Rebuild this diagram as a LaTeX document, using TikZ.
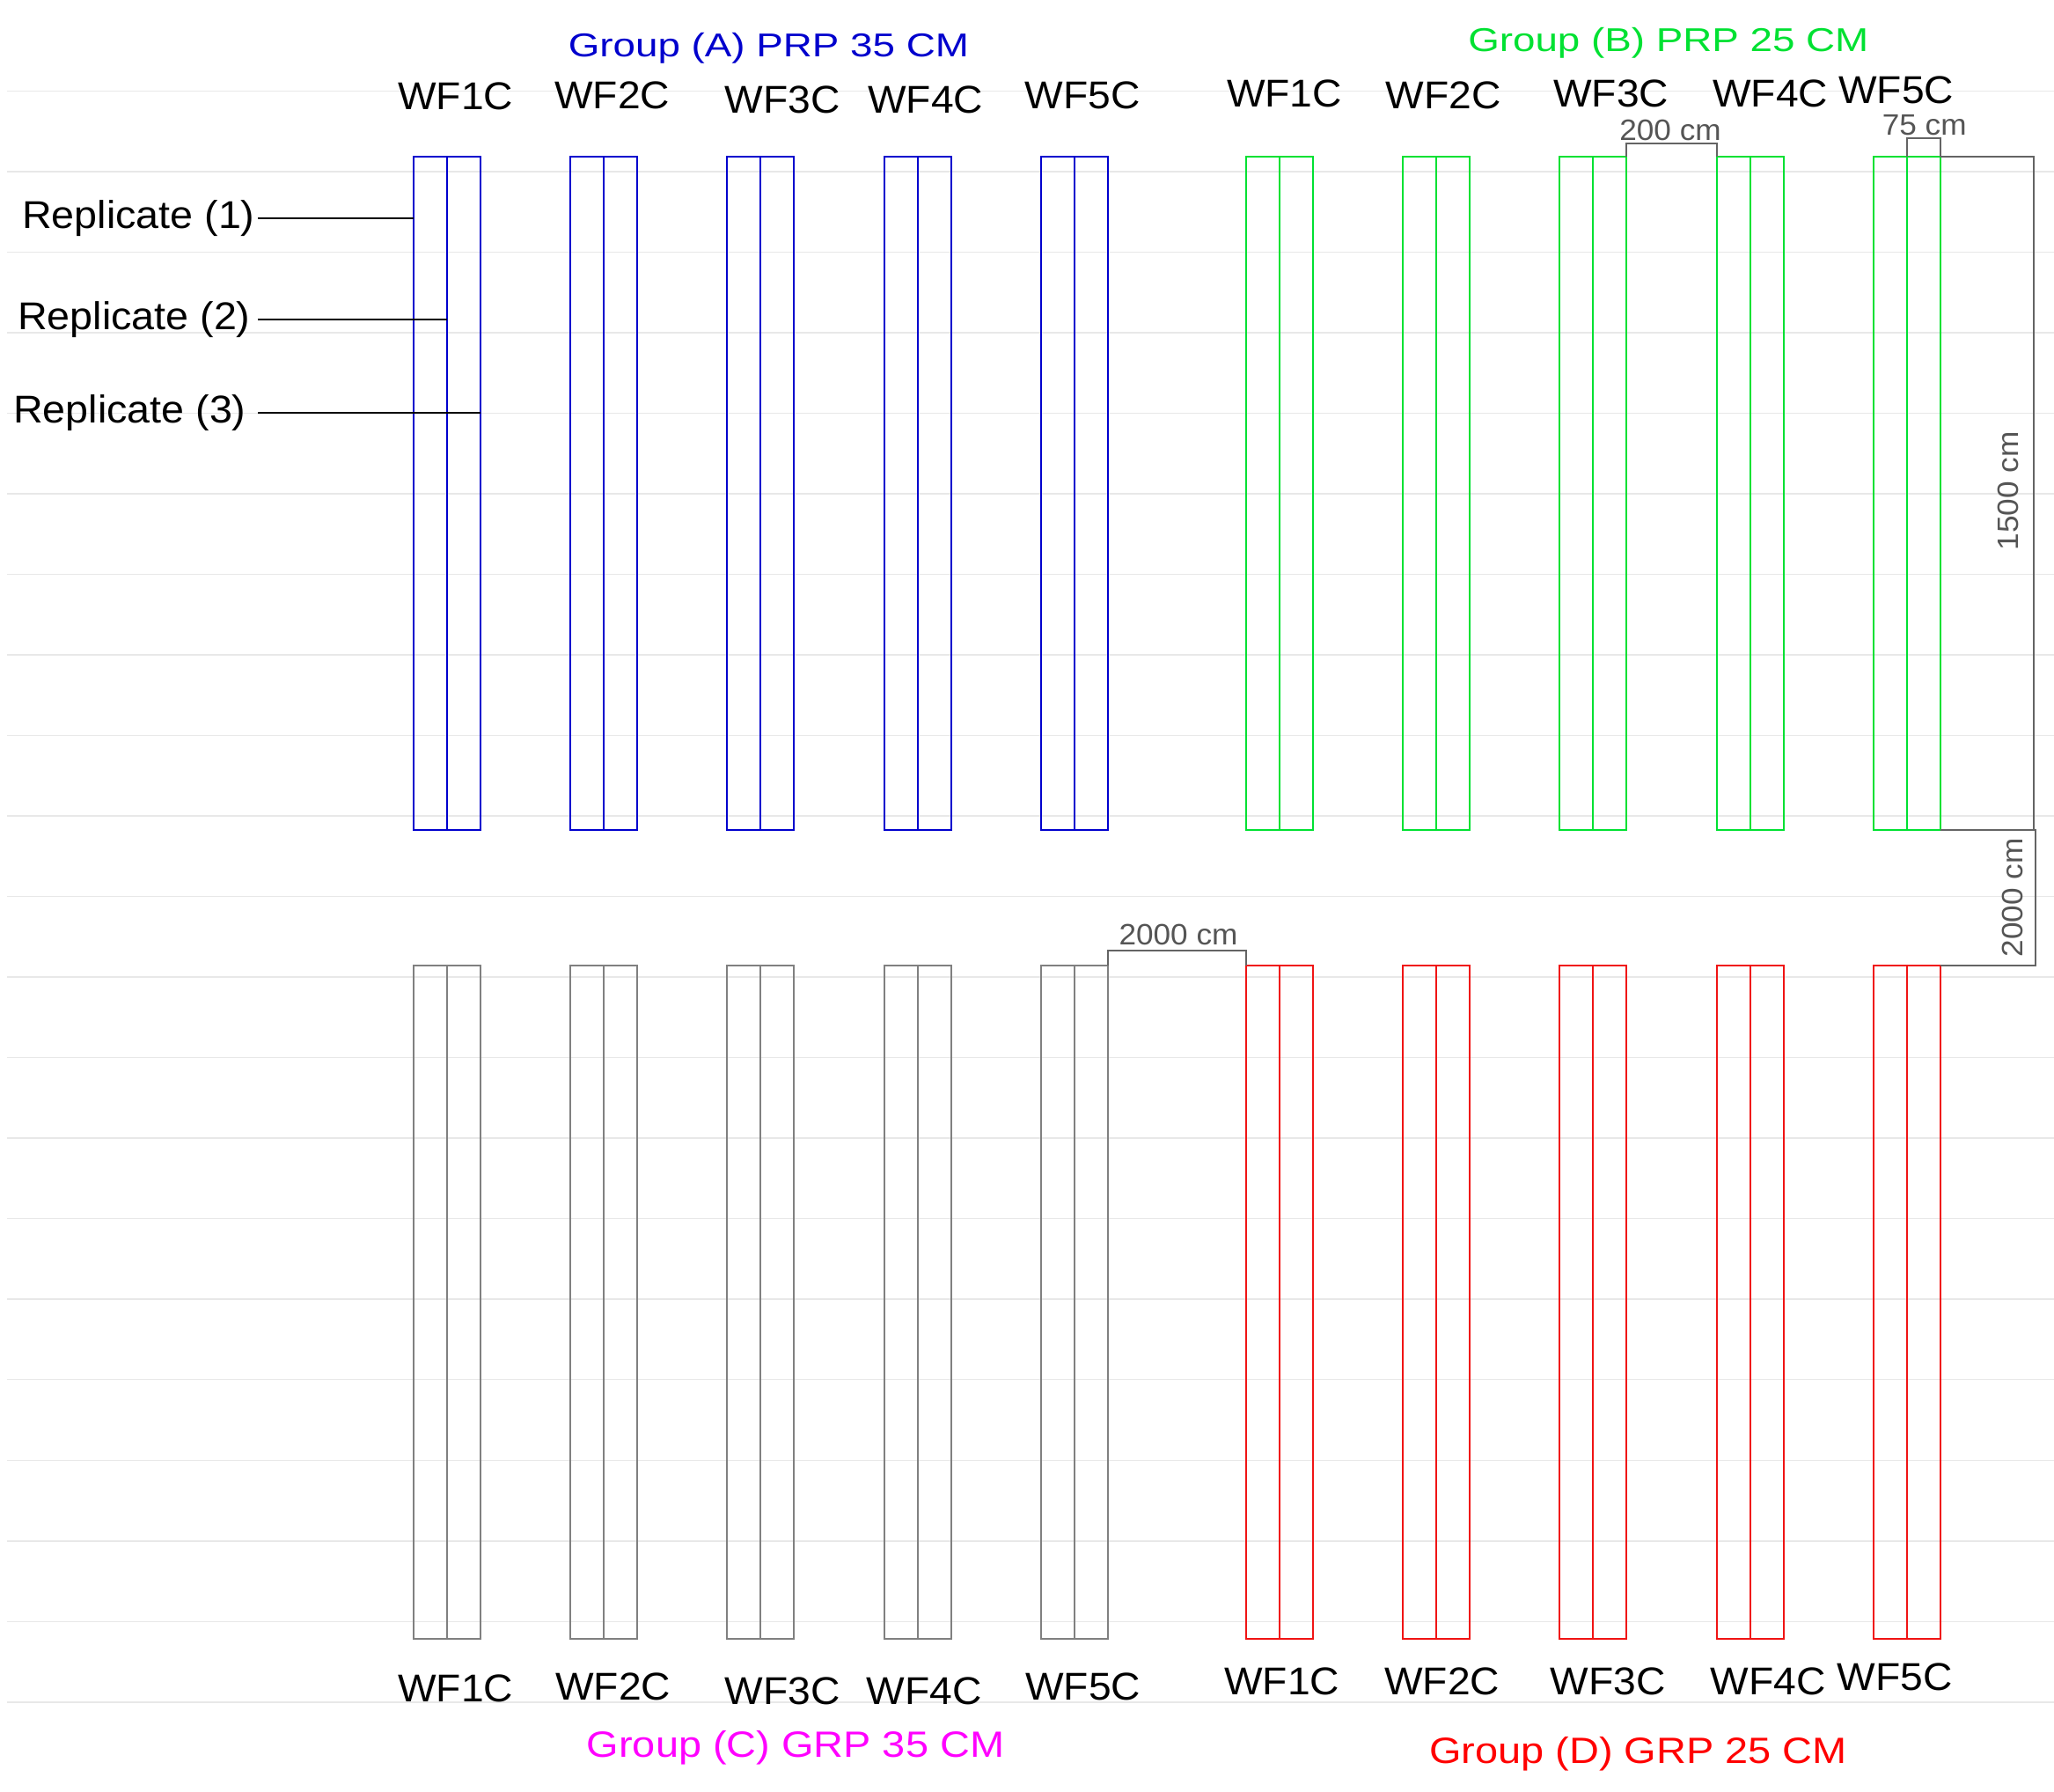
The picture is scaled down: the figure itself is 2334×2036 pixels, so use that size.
\documentclass[tikz,border=0pt]{standalone}
\usepackage{fontspec}
\setmainfont{Liberation Sans}
\newfontfamily\wffont{Liberation Sans}[FakeStretch=1.05]
\newfontfamily\grpabfont{Liberation Sans}[FakeStretch=1.22]
\newfontfamily\grpcdfont{Liberation Sans}[FakeStretch=1.13]
\newfontfamily\repfont{Liberation Sans}[FakeStretch=1.06]
\newfontfamily\dimfont{Liberation Sans}[FakeStretch=1.05]
\definecolor{colA}{RGB}{0,0,205}
\definecolor{colB}{RGB}{0,225,50}
\definecolor{colC}{RGB}{128,128,128}
\definecolor{colCt}{RGB}{255,0,255}
\definecolor{colD}{RGB}{240,20,20}
\definecolor{colDt}{RGB}{255,0,0}
\definecolor{dimtext}{RGB}{85,85,85}
\definecolor{dimline}{RGB}{100,100,100}
\definecolor{gridc}{RGB}{232,232,232}
\tikzset{
  gridln/.style={draw=gridc, line width=1.5pt},
  plotbox/.style={draw, anchor=north west, minimum width=76pt, minimum height=765pt,
    inner sep=0pt, outer sep=0pt, line width=2pt},
  midln/.style={line width=2pt},
  wflbl/.style={anchor=base, inner sep=0pt, font=\wffont\fontsize{44}{44}\selectfont, text=black},
  grpab/.style={anchor=base, inner sep=0pt, font=\grpabfont\fontsize{37.5}{37.5}\selectfont},
  grpcd/.style={anchor=base, inner sep=0pt, font=\grpcdfont\fontsize{41.5}{41.5}\selectfont},
  replbl/.style={anchor=base west, inner sep=0pt, font=\repfont\fontsize{44}{44}\selectfont, text=black},
  dimlbl/.style={anchor=base, inner sep=0pt, font=\dimfont\fontsize{33.5}{33.5}\selectfont, text=dimtext},
  dimln/.style={draw=dimline, line width=2pt},
  lead/.style={draw=black, line width=2pt},
}
\begin{document}
\begin{tikzpicture}[x=1pt,y=-1pt]
\useasboundingbox (0,0) rectangle (2334,2036);
\fill[white] (0,0) rectangle (2334,2036);
% faint horizontal grid
\foreach \k in {0,...,20} {
  \draw[gridln] (8,{103.4+91.52*\k}) -- (2334,{103.4+91.52*\k});
}
% plots
\foreach \k in {1,...,5} {
  \node[plotbox, draw=colA] (A\k) at ({469.5+178.4*(\k-1)},178.3) {};
  \draw[midln, draw=colA] (A\k.north) -- (A\k.south);
  \node[plotbox, draw=colB] (B\k) at ({1415.5+178.4*(\k-1)},178.3) {};
  \draw[midln, draw=colB] (B\k.north) -- (B\k.south);
  \node[plotbox, draw=colC] (C\k) at ({469.5+178.4*(\k-1)},1097) {};
  \draw[midln, draw=colC] (C\k.north) -- (C\k.south);
  \node[plotbox, draw=colD] (D\k) at ({1415.5+178.4*(\k-1)},1097) {};
  \draw[midln, draw=colD] (D\k.north) -- (D\k.south);
}
% group titles
\node[grpab, text=colA] (tA) at (873.4,65) {Group (A) PRP 35 CM};
\node[grpab, text=colB] (tB) at (1895.8,58.3) {Group (B) PRP 25 CM};
\node[grpcd, text=colCt] (tC) at (904,1996.7) {Group (C) GRP 35 CM};
\node[grpcd, text=colDt] (tD) at (1861.5,2003.3) {Group (D) GRP 25 CM};
% plot labels
\node[wflbl] (la1) at (517.8,125) {WF1C};
\node[wflbl] (la2) at (695.8,123.3) {WF2C};
\node[wflbl] (la3) at (889.2,128.3) {WF3C};
\node[wflbl] (la4) at (1051.7,128.3) {WF4C};
\node[wflbl] (la5) at (1230.3,124) {WF5C};
\node[wflbl] (lb1) at (1459.5,122) {WF1C};
\node[wflbl] (lb2) at (1640,123.5) {WF2C};
\node[wflbl] (lb3) at (1830.8,121.7) {WF3C};
\node[wflbl] (lb4) at (2011.7,121.7) {WF4C};
\node[wflbl] (lb5) at (2154.8,117.3) {WF5C};
\node[wflbl] (lc1) at (517.7,1933) {WF1C};
\node[wflbl] (lc2) at (696.8,1931) {WF2C};
\node[wflbl] (lc3) at (889,1936) {WF3C};
\node[wflbl] (lc4) at (1050,1936) {WF4C};
\node[wflbl] (lc5) at (1230.6,1931.7) {WF5C};
\node[wflbl] (ld1) at (1456.7,1925) {WF1C};
\node[wflbl] (ld2) at (1638.7,1925) {WF2C};
\node[wflbl] (ld3) at (1827,1925) {WF3C};
\node[wflbl] (ld4) at (2009,1925) {WF4C};
\node[wflbl] (ld5) at (2153,1920) {WF5C};
% replicate labels and leaders
\node[replbl] (rep1) at (25,259.3) {Replicate (1)};
\node[replbl] (rep2) at (20,374.8) {Replicate (2)};
\node[replbl] (rep3) at (15,480.8) {Replicate (3)};
\coordinate (lx) at (293,0);
\draw[lead] (rep1.east -| lx) -- (A1.west |- rep1.east);
\draw[lead] (rep2.east -| lx) -- (A1.north |- rep2.east);
\draw[lead] (rep3.east -| lx) -- (A1.east |- rep3.east);
% dimensions
\coordinate (r15) at (2310.5,0);
\coordinate (r20) at (2312.5,0);
\draw[dimln] (B3.north east) -- ++(0,-15) -| (B4.north west);
\node[dimlbl] (d200) at (1898,160) {200 cm};
\draw[dimln] (B5.north) -- ++(0,-21) -| (B5.north east);
\node[dimlbl] (d75) at (2186.7,153.3) {75 cm};
\draw[dimln] (B5.north east) -| (r15 |- B5.south) -- (B5.south east);
\node[dimlbl, rotate=90] (d1500) at (2293.3,558) {1500 cm};
\draw[dimln] (B5.south east) -- (r20 |- B5.south) -- (r20 |- D5.north) -- (D5.north east);
\node[dimlbl, rotate=90] (d2000v) at (2298.3,1020) {2000 cm};
\draw[dimln] (C5.north east) -- ++(0,-17) -| (D1.north west);
\node[dimlbl] (d2000h) at (1339,1073) {2000 cm};
\end{tikzpicture}
\end{document}
